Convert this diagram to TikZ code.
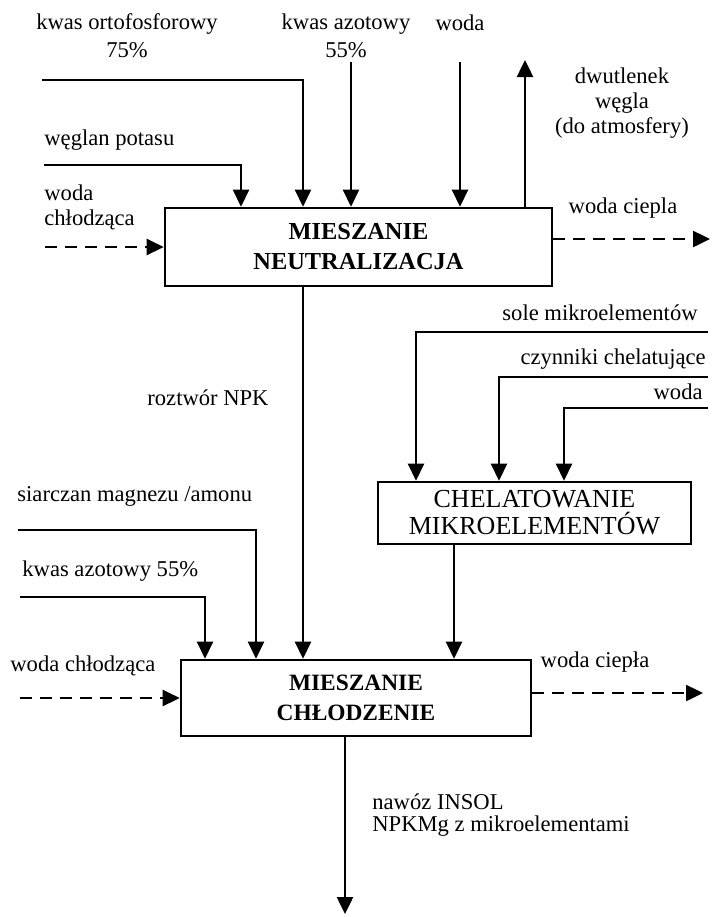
\documentclass[tikz,border=0pt]{standalone}
\usepackage{fontspec}
\setmainfont{Liberation Serif}
\usepackage{tikz}
\usetikzlibrary{arrows.meta}
\tikzset{>={Triangle[length=8.5pt,width=8pt]},
  proc/.style={draw, line width=1.3pt, align=center, inner sep=0pt},
  flow/.style={->, line width=1.25pt},
  heat/.style={->, line width=1.25pt, dash pattern=on 6pt off 4pt},
  lbl/.style={font=\fontsize{11.3}{14}\selectfont, inner sep=0pt}}

\begin{document}
\begin{tikzpicture}[x=0.5pt,y=-0.5pt]
    \useasboundingbox (0,0) rectangle (712,917);

    \node[proc, minimum width=193.5pt, minimum height=39pt,
      font=\bfseries\fontsize{12.2}{15}\selectfont] (mix1) at (358.5,247) {MIESZANIE\\NEUTRALIZACJA};
    \node[proc, minimum width=156.5pt, minimum height=31pt,
      font=\fontsize{13}{13.5}\selectfont] (chel) at (534.5,513) {CHELATOWANIE\\MIKROELEMENTÓW};
    \node[proc, minimum width=175pt, minimum height=38pt,
      font=\bfseries\fontsize{11.7}{15}\selectfont] (mix3) at (356,698) {MIESZANIE\\CHŁODZENIE};

    % wejscia i wyjscia mieszania / neutralizacji
    \coordinate (orto) at (42,80);
    \coordinate (ortoC) at (303,80);
    \coordinate (potas) at (44,165);
    \coordinate (potasC) at (241,165);
    \coordinate (azot) at (351,62);
    \coordinate (woda1) at (460,62);
    \coordinate (co2) at (525,60);
    \coordinate (chl1) at (45,247);
    \coordinate (cie1) at (710,239);
    \draw[flow] (orto) -- (ortoC) -- (ortoC |- mix1.north);
    \draw[flow] (potas) -- (potasC) -- (potasC |- mix1.north);
    \draw[flow] (azot) -- (azot |- mix1.north);
    \draw[flow] (woda1) -- (woda1 |- mix1.north);
    \draw[flow] (co2 |- mix1.north) -- (co2);
    \draw[heat] (chl1) -- (mix1.west);
    \draw[heat] (cie1 -| mix1.east) -- (cie1);

    \node[lbl, align=center] (orto-l) at (127,36) {kwas ortofosforowy\\75\%};
    \node[lbl, align=center] (azot-l) at (346,36) {kwas azotowy\\55\%};
    \node[lbl, anchor=base] (woda1-l) at (460,30) {woda};
    \node[lbl, align=center, font=\fontsize{11.3}{12.5}\selectfont] (co2-l) at (622,103) {dwutlenek\\węgla\\(do atmosfery)};
    \node[lbl] (cie1-l) at (623,208) {woda ciepla};
    \node[lbl, anchor=west] (potas-l) at (44,140) {węglan potasu};
    \node[lbl, anchor=west, align=left, font=\fontsize{11.3}{12.5}\selectfont] (chl1-l) at (44,207) {woda\\chłodząca};

    % chelatowanie
    \coordinate (sole) at (708,332);
    \coordinate (soleC) at (416,332);
    \coordinate (czyn) at (708,377);
    \coordinate (czynC) at (499,377);
    \coordinate (woda2) at (708,408);
    \coordinate (woda2C) at (564,408);
    \draw[flow] (sole) -- (soleC) -- (soleC |- chel.north);
    \draw[flow] (czyn) -- (czynC) -- (czynC |- chel.north);
    \draw[flow] (woda2) -- (woda2C) -- (woda2C |- chel.north);

    \node[lbl, anchor=east] (sole-l) at (698,313) {sole mikroelementów};
    \node[lbl, anchor=east] (czyn-l) at (706,359) {czynniki chelatujące};
    \node[lbl, anchor=east] (woda2-l) at (703,392) {woda};

    % mieszanie / chlodzenie
    \coordinate (siar) at (18,530);
    \coordinate (siarC) at (256,530);
    \coordinate (azot2) at (20,597);
    \coordinate (azot2C) at (205,597);
    \coordinate (chl2) at (20,698);
    \coordinate (cie2) at (703,693);
    \coordinate (prod) at (345,914);
    \draw[flow] (ortoC |- mix1.south) -- (ortoC |- mix3.north);
    \draw[flow] ([xshift=-40.25pt]chel.south) -- ([xshift=-40.25pt]chel.south |- mix3.north);
    \draw[flow] (siar) -- (siarC) -- (siarC |- mix3.north);
    \draw[flow] (azot2) -- (azot2C) -- (azot2C |- mix3.north);
    \draw[heat] (chl2) -- (mix3.west);
    \draw[heat] (cie2 -| mix3.east) -- (cie2);
    \draw[flow] (prod |- mix3.south) -- (prod);

    \node[lbl, anchor=west] (npk-l) at (147,398) {roztwór NPK};
    \node[lbl, anchor=west] (siar-l) at (17,496) {siarczan magnezu /amonu};
    \node[lbl, anchor=west] (azot2-l) at (22,571) {kwas azotowy 55\%};
    \node[lbl, anchor=west] (chl2-l) at (10,666) {woda chłodząca};
    \node[lbl] (cie2-l) at (595,662) {woda ciepła};
    \node[lbl, anchor=west, align=left, font=\fontsize{11.3}{11}\selectfont] (prod-l) at (372,815) {nawóz INSOL\\NPKMg z mikroelementami};
\end{tikzpicture}
\end{document}
